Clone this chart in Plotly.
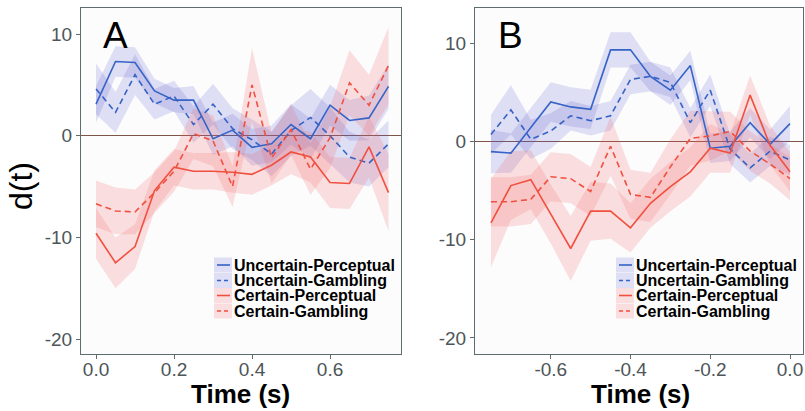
import numpy as np
import plotly.graph_objects as go

# ---- data -------------------------------------------------------------
series_names = ["Uncertain-Perceptual", "Uncertain-Gambling",
                "Certain-Perceptual", "Certain-Gambling"]

time_a = [0.00, 0.05, 0.10, 0.15, 0.20, 0.25, 0.30, 0.35,
          0.40, 0.45, 0.50, 0.55, 0.60, 0.65, 0.70, 0.75]
time_b = [-0.75, -0.70, -0.65, -0.60, -0.55, -0.50, -0.45, -0.40,
          -0.35, -0.30, -0.25, -0.20, -0.15, -0.10, -0.05, 0.00]

# Panel A: stimulus-locked d(t), mean and standard error
a_up_mean = [3.1, 7.3, 7.2, 4.4, 3.5, 3.5, -0.3, 0.55, -1.15, -0.8, 1.1, -0.3, 3.0, 1.5, 1.75, 4.85]
a_up_se = [1.8, 1.5, 1.5, 1.2, 1.2, 1.4, 1.6, 1.6, 1.8, 1.8, 2.0, 2.0, 2.0, 2.0, 2.2, 2.2]
a_ug_mean = [4.6, 2.3, 6.0, 3.1, 3.9, 1.1, 3.1, 0.7, -0.4, -1.8, 0.5, 1.8, 0.0, -2.1, -2.7, -0.8]
a_ug_se = [2.5, 2.0, 2.0, 1.5, 1.5, 1.8, 2.0, 2.0, 2.0, 2.2, 2.5, 2.8, 2.8, 2.5, 2.3, 2.3]
a_cp_mean = [-9.6, -12.5, -10.9, -5.4, -3.1, -3.5, -3.5, -3.6, -3.8, -2.9, -1.6, -2.1, -4.6, -4.7, -1.1, -5.6]
a_cp_se = [2.5, 2.5, 2.2, 2.0, 1.8, 1.8, 1.8, 2.0, 2.0, 2.0, 2.2, 2.5, 2.5, 2.5, 3.0, 3.8]
a_cg_mean = [-6.7, -7.4, -7.5, -5.6, -3.5, 0.2, -0.5, -5.0, 5.0, -2.2, 0.6, -3.3, -0.2, 5.2, 3.0, 6.9]
a_cg_se = [2.3, 2.3, 2.2, 2.0, 2.0, 2.5, 2.5, 2.0, 3.6, 2.5, 2.5, 2.5, 3.0, 3.2, 3.0, 3.8]

# Panel B: response-locked d(t), mean and standard error
b_up_mean = [-1.05, -1.2, 1.4, 4.0, 3.5, 3.25, 9.3, 9.3, 6.6, 5.2, 7.7, -0.7, -0.5, 1.9, -0.3, 1.8]
b_up_se = [2.2, 2.0, 2.0, 2.0, 2.0, 2.0, 1.8, 1.8, 1.5, 1.5, 1.5, 1.5, 1.5, 1.5, 1.5, 1.8]
b_ug_mean = [0.7, 3.2, 0.2, 1.05, 2.6, 2.1, 2.6, 6.3, 6.6, 6.0, 1.9, 5.2, -0.8, -2.7, -1.0, -1.9]
b_ug_se = [2.0, 2.5, 2.0, 1.8, 1.5, 1.5, 1.5, 1.5, 1.5, 1.5, 1.5, 1.6, 1.5, 1.5, 1.5, 1.5]
b_cp_mean = [-8.3, -4.5, -3.9, -7.4, -10.9, -7.1, -7.1, -8.8, -6.3, -4.6, -3.1, -0.7, -1.2, 4.7, -0.4, -3.1]
b_cp_se = [4.5, 3.5, 3.0, 3.0, 3.3, 3.0, 2.8, 2.5, 2.5, 2.5, 2.5, 2.5, 2.0, 2.0, 2.0, 2.0]
b_cg_mean = [-6.15, -6.15, -5.9, -3.6, -3.8, -5.1, -0.5, -5.4, -5.7, -2.6, 0.3, 0.55, 1.0, -1.0, -2.3, -3.8]
b_cg_se = [2.5, 2.5, 2.5, 2.5, 2.5, 2.5, 3.0, 2.5, 2.5, 2.8, 2.8, 2.5, 2.0, 2.0, 2.0, 2.2]

x_ticks_a = [0.0, 0.2, 0.4, 0.6]
x_labels_a = ["0.0", "0.2", "0.4", "0.6"]
x_ticks_b = [-0.6, -0.4, -0.2, 0.0]
x_labels_b = ["-0.6", "-0.4", "-0.2", "0.0"]
y_ticks = [10, 0, -10, -20]
y_labels = ["10", "0", "-10", "-20"]

# ---- styling ----------------------------------------------------------
W, H = 805, 411
BLUE = "#3563c6"
RED = "#f0503f"
BLUE_FILL = "rgba(95, 95, 205, 0.19)"
RED_FILL = "rgba(245, 95, 95, 0.19)"
line_colors = [BLUE, BLUE, RED, RED]
fill_colors = [BLUE_FILL, BLUE_FILL, RED_FILL, RED_FILL]
dashes = ["solid", "6px,4px", "solid", "6px,4px"]
FONT = "Arial, Liberation Sans, sans-serif"
AXIS_GREY = "#5e6b70"
TICK_GREY = "#4d5558"


def px(x):
    return x / W


def py(y):
    return 1 - y / H


panels = [
    dict(xa="x", ya="y", t=time_a,
         means=[a_up_mean, a_ug_mean, a_cp_mean, a_cg_mean],
         ses=[a_up_se, a_ug_se, a_cp_se, a_cg_se]),
    dict(xa="x2", ya="y2", t=time_b,
         means=[b_up_mean, b_ug_mean, b_cp_mean, b_cg_mean],
         ses=[b_up_se, b_ug_se, b_cp_se, b_cg_se]),
]

fig = go.Figure()

for p in panels:
    t = np.array(p["t"])
    # standard-error ribbons first, lines on top
    for k in range(4):
        m = np.array(p["means"][k])
        s = np.array(p["ses"][k])
        fig.add_trace(go.Scatter(
            x=np.concatenate([t, t[::-1]]),
            y=np.concatenate([m + s, (m - s)[::-1]]),
            fill="toself", fillcolor=fill_colors[k],
            line=dict(width=0), mode="lines",
            hoverinfo="skip", showlegend=False,
            xaxis=p["xa"], yaxis=p["ya"]))
    for k in range(4):
        fig.add_trace(go.Scatter(
            x=t, y=p["means"][k], mode="lines", name=series_names[k],
            line=dict(color=line_colors[k], width=1.6, dash=dashes[k]),
            showlegend=False, xaxis=p["xa"], yaxis=p["ya"]))

axis_common = dict(
    showgrid=False, ticks="outside", ticklen=4, tickwidth=1,
    tickcolor=AXIS_GREY, showline=True, linecolor=AXIS_GREY, linewidth=1,
    mirror=True, tickfont=dict(family=FONT, size=19, color=TICK_GREY),
)

fig.update_layout(
    width=W, height=H,
    margin=dict(l=0, r=0, t=0, b=0),
    paper_bgcolor="white", plot_bgcolor="#fcfcfd",
    showlegend=False,
    xaxis=dict(domain=[px(81), px(401)], range=[-0.0385, 0.782],
               tickvals=x_ticks_a, ticktext=x_labels_a, zeroline=False,
               ticklabelstandoff=-6, **axis_common),
    yaxis=dict(domain=[py(354), py(8)], range=[-21.47, 12.56],
               tickvals=y_ticks, ticktext=y_labels, zeroline=True,
               zerolinecolor="#7f5548", zerolinewidth=1, **axis_common),
    xaxis2=dict(domain=[px(475), px(803)], range=[-0.790, 0.0326],
                anchor="y2", tickvals=x_ticks_b, ticktext=x_labels_b,
                zeroline=False, ticklabelstandoff=-6, **axis_common),
    yaxis2=dict(domain=[py(354), py(8)], range=[-21.63, 13.56],
                anchor="x2", tickvals=y_ticks, ticktext=y_labels,
                zeroline=True, zerolinecolor="#7f5548", zerolinewidth=1,
                **axis_common),
)

annotations = []
shapes = []

# panel letters and axis titles
for label, cx in (("A", 115.5), ("B", 510)):
    annotations.append(dict(text=label, x=px(cx), y=py(35), xref="paper", yref="paper",
                            xanchor="center", yanchor="middle", showarrow=False,
                            font=dict(family=FONT, size=37, color="black")))
for cx in (241, 640):
    annotations.append(dict(text="<b>Time (s)</b>", x=px(cx), y=py(394), xref="paper",
                            yref="paper", xanchor="center", yanchor="middle",
                            showarrow=False,
                            font=dict(family=FONT, size=26, color="black")))
annotations.append(dict(text="d(t)", x=px(21), y=py(186), xref="paper", yref="paper",
                        xanchor="center", yanchor="middle", textangle=-90,
                        showarrow=False, font=dict(family=FONT, size=32, color="black")))

# legends inside each panel
legend_rows = [265, 280.5, 295.5, 311]
for box_x0 in (214, 616):
    for k, yc in enumerate(legend_rows):
        shapes.append(dict(type="rect", xref="paper", yref="paper",
                           x0=px(box_x0), x1=px(box_x0 + 18),
                           y0=py(yc + 7.5), y1=py(yc - 7.5),
                           fillcolor=fill_colors[k], line=dict(width=0)))
        shapes.append(dict(type="line", xref="paper", yref="paper",
                           x0=px(box_x0 + 3), x1=px(box_x0 + 16),
                           y0=py(yc), y1=py(yc),
                           line=dict(color=line_colors[k], width=1.6,
                                     dash="4px,3px" if k % 2 else "solid")))
        annotations.append(dict(text="<b>%s</b>" % series_names[k],
                                x=px(box_x0 + 18), y=py(yc), xref="paper", yref="paper",
                                xanchor="left", yanchor="middle", showarrow=False,
                                font=dict(family=FONT, size=16, color="black")))

fig.update_layout(annotations=annotations, shapes=shapes)

fig.write_html("out.html")
